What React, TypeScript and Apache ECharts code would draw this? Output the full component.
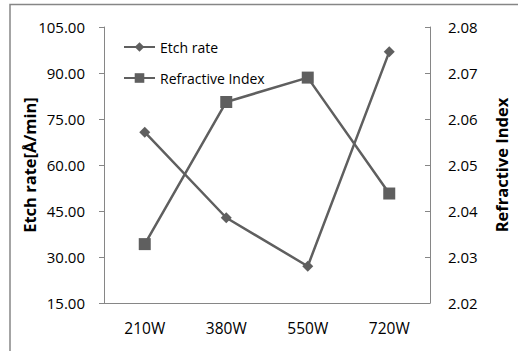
import React, { useEffect, useRef } from "react";
import * as echarts from "echarts";

const categories = ["210W", "380W", "550W", "720W"];
const etchRate = [70.7, 42.8, 27.0, 96.9];
const refractiveIndex = [2.0328, 2.0637, 2.069, 2.0438];

const GRAY = "#5f5f5f";
const AXIS = "#868686";
const FONT = "'Open Sans', sans-serif";

export default function App() {
  const ref = useRef<HTMLDivElement>(null);
  useEffect(() => {
    if (!ref.current) return;
    const chart = echarts.init(ref.current, null, { renderer: "svg" });
    chart.setOption({
      animation: false,
      backgroundColor: "#ffffff",
      graphic: [
        {
          type: "rect",
          shape: { x: 10, y: 4.5, width: 530, height: 370 },
          style: { fill: "none", stroke: AXIS, lineWidth: 1.5 },
          silent: true,
        },
      ],
      grid: { left: 104, right: 78, top: 27, bottom: 48 },
      legend: {
        orient: "vertical",
        left: 118,
        top: 35,
        itemWidth: 31,
        itemHeight: 12,
        itemGap: 17,
        textStyle: { fontFamily: FONT, fontSize: 14, color: "#000" },
        data: ["Etch rate", "Refractive Index"],
      },
      xAxis: {
        type: "category",
        data: categories,
        boundaryGap: true,
        axisLine: { lineStyle: { color: AXIS, width: 1 } },
        axisTick: { inside: true, length: 5, lineStyle: { color: AXIS } },
        axisLabel: { fontFamily: FONT, fontSize: 15.5, color: "#000", margin: 17 },
      },
      yAxis: [
        {
          type: "value",
          min: 15,
          max: 105,
          interval: 15,
          position: "left",
          name: "Etch rate[Å/min]",
          nameLocation: "middle",
          nameGap: 66,
          nameMoveOverlap: false,
          nameTextStyle: { fontFamily: FONT, fontSize: 16.5, fontWeight: "bold", color: "#000" },
          axisLine: { show: true, lineStyle: { color: AXIS, width: 1 } },
          axisTick: { show: true, length: 5, lineStyle: { color: AXIS } },
          splitLine: { show: false },
          axisLabel: {
            fontFamily: FONT,
            fontSize: 15,
            color: "#000",
            margin: 19,
            formatter: (v: number) => v.toFixed(2),
          },
        },
        {
          type: "value",
          min: 2.02,
          max: 2.08,
          interval: 0.01,
          position: "right",
          name: "Refractive Index",
          nameLocation: "middle",
          nameGap: 63,
          nameMoveOverlap: false,
          nameTextStyle: { fontFamily: FONT, fontSize: 16.5, fontWeight: "bold", color: "#000" },
          axisLine: { show: true, lineStyle: { color: AXIS, width: 1 } },
          axisTick: { show: true, inside: true, length: 5, lineStyle: { color: AXIS } },
          splitLine: { show: false },
          axisLabel: {
            fontFamily: FONT,
            fontSize: 15,
            color: "#000",
            margin: 18,
            formatter: (v: number) => v.toFixed(2),
          },
        },
      ],
      series: [
        {
          name: "Etch rate",
          type: "line",
          yAxisIndex: 0,
          data: etchRate,
          symbol: "diamond",
          symbolSize: 11,
          lineStyle: { color: GRAY, width: 2.5 },
          itemStyle: { color: GRAY },
        },
        {
          name: "Refractive Index",
          type: "line",
          yAxisIndex: 1,
          data: refractiveIndex,
          symbol: "rect",
          symbolSize: 12,
          lineStyle: { color: GRAY, width: 2.5 },
          itemStyle: { color: GRAY },
        },
      ],
    });
    return () => chart.dispose();
  }, []);
  return (
    <div
      ref={ref}
      style={{ position: "absolute", left: 0, top: 0, width: 518, height: 351 }}
    />
  );
}
